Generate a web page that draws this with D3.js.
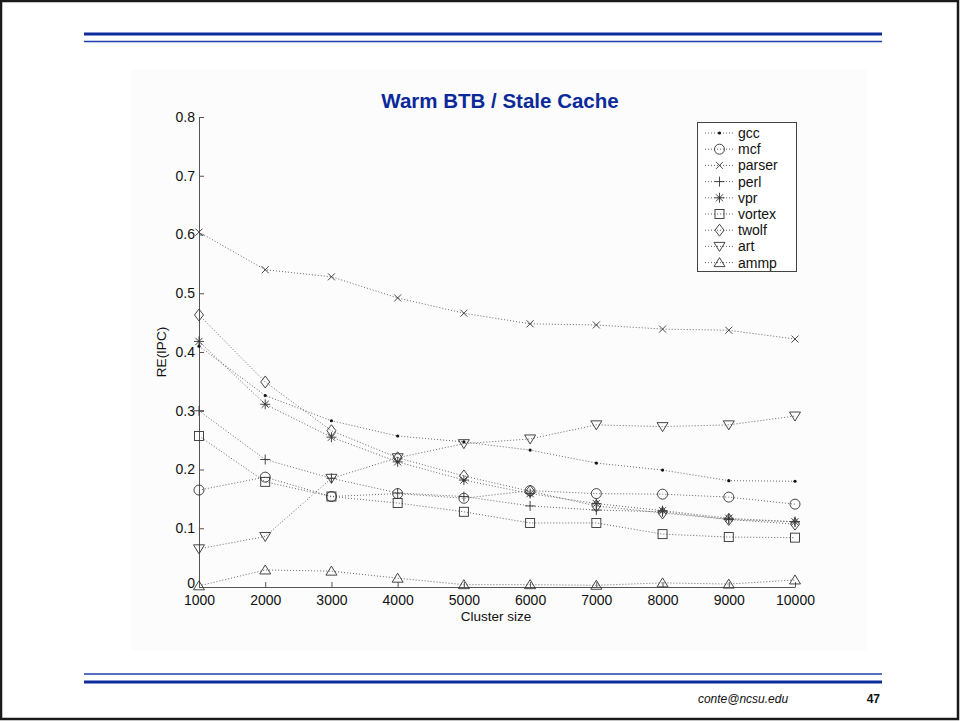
<!DOCTYPE html>
<html>
<head>
<meta charset="utf-8">
<script src="https://cdn.jsdelivr.net/npm/d3@7"></script>
<style>
  html, body { margin: 0; padding: 0; background: #fff; }
  svg { display: block; font-family: "Liberation Sans", Arial, sans-serif; }
</style>
</head>
<body>
<svg id="slide" width="960" height="721"></svg>
<script>
// Cluster sizes on the x axis
const clusterSizes = [1000, 2000, 3000, 4000, 5000, 6000, 7000, 8000, 9000, 10000];

// RE(IPC) per benchmark, one value per cluster size
const gcc    = [0.410, 0.326, 0.283, 0.257, 0.247, 0.233, 0.211, 0.199, 0.181, 0.180];
const mcf    = [0.165, 0.187, 0.154, 0.159, 0.151, 0.164, 0.159, 0.158, 0.153, 0.141];
const parser = [0.604, 0.540, 0.528, 0.492, 0.466, 0.448, 0.446, 0.439, 0.437, 0.422];
const perl   = [0.300, 0.217, 0.185, 0.160, 0.154, 0.138, 0.131, 0.128, 0.115, 0.111];
const vpr    = [0.418, 0.311, 0.255, 0.213, 0.182, 0.159, 0.142, 0.130, 0.117, 0.111];
const vortex = [0.257, 0.179, 0.154, 0.143, 0.128, 0.109, 0.109, 0.090, 0.085, 0.084];
const twolf  = [0.463, 0.349, 0.266, 0.220, 0.189, 0.163, 0.138, 0.126, 0.115, 0.107];
const art    = [0.065, 0.086, 0.185, 0.220, 0.244, 0.252, 0.276, 0.273, 0.276, 0.291];
const ammp   = [0.002, 0.029, 0.027, 0.015, 0.004, 0.004, 0.003, 0.007, 0.005, 0.012];

const seriesNames = ["gcc", "mcf", "parser", "perl", "vpr", "vortex", "twolf", "art", "ammp"];
const seriesValues = [gcc, mcf, parser, perl, vpr, vortex, twolf, art, ammp];
const seriesMarkers = ["dot", "circle", "x", "plus", "star", "square", "diamond", "down", "up"];

const xTicks = [1000, 2000, 3000, 4000, 5000, 6000, 7000, 8000, 9000, 10000];
const yTicks = [0, 0.1, 0.2, 0.3, 0.4, 0.5, 0.6, 0.7, 0.8];
const yTickLabels = ["0", "0.1", "0.2", "0.3", "0.4", "0.5", "0.6", "0.7", "0.8"];

const svg = d3.select("#slide");

// Slide frame
svg.append("rect").attr("x", 1).attr("y", 1).attr("width", 957).attr("height", 718)
  .attr("fill", "none").attr("stroke", "#1a1a1a").attr("stroke-width", 2.5);

// Header rules
const blue = "#0c2c9e";
svg.append("line").attr("x1", 84).attr("x2", 882).attr("y1", 34).attr("y2", 34)
  .attr("stroke", blue).attr("stroke-width", 3);
svg.append("line").attr("x1", 84).attr("x2", 882).attr("y1", 41.5).attr("y2", 41.5)
  .attr("stroke", "#1f3fae").attr("stroke-width", 1.6);
// Footer rules
svg.append("line").attr("x1", 84).attr("x2", 882).attr("y1", 674).attr("y2", 674)
  .attr("stroke", "#1f3fae").attr("stroke-width", 1.6);
svg.append("line").attr("x1", 84).attr("x2", 882).attr("y1", 682).attr("y2", 682)
  .attr("stroke", blue).attr("stroke-width", 3);

svg.append("text").attr("x", 743).attr("y", 703).attr("text-anchor", "middle")
  .attr("font-size", 12).attr("font-style", "italic").attr("fill", "#111")
  .text("conte@ncsu.edu");
svg.append("text").attr("x", 880).attr("y", 703).attr("text-anchor", "end")
  .attr("font-size", 12).attr("font-weight", "bold").attr("fill", "#111")
  .text("47");

// Figure background
svg.append("rect").attr("x", 131).attr("y", 70).attr("width", 736).attr("height", 580)
  .attr("fill", "#fcfcfc");

// Scales
const x = d3.scaleLinear().domain([1000, 10000]).range([199, 795]);
const y = d3.scaleLinear().domain([0, 0.8]).range([587, 117]);

const axisColor = "#555";
const tickFont = 14;

// Y axis (ticks point inward)
const yAxis = svg.append("g").attr("transform", `translate(${x(1000)},0)`)
  .call(d3.axisLeft(y).tickValues(yTicks).tickSizeInner(-5).tickSizeOuter(0).tickPadding(4)
    .tickFormat((d, i) => yTickLabels[i]));
yAxis.select(".domain").attr("stroke", axisColor);
yAxis.selectAll(".tick line").attr("stroke", axisColor);
yAxis.selectAll(".tick text").attr("font-size", tickFont).attr("fill", "#111")
  .attr("font-family", "Liberation Sans, Arial, sans-serif");
// lift the zero label so it sits clear of the first x label
yAxis.selectAll(".tick text").filter(d => d === 0).attr("dy", "0em");

// X axis (ticks point inward)
const xAxis = svg.append("g").attr("transform", `translate(0,${y(0)})`)
  .call(d3.axisBottom(x).tickValues(xTicks).tickSizeInner(-5).tickSizeOuter(0).tickPadding(8)
    .tickFormat(d3.format("d")));
xAxis.select(".domain").attr("stroke", axisColor);
xAxis.selectAll(".tick line").attr("stroke", axisColor);
xAxis.selectAll(".tick text").attr("font-size", tickFont).attr("fill", "#111")
  .attr("font-family", "Liberation Sans, Arial, sans-serif");

// Titles
svg.append("text").attr("x", 500).attr("y", 108).attr("text-anchor", "middle")
  .attr("font-size", 20.5).attr("font-weight", "bold").attr("fill", "#0b2a99")
  .text("Warm BTB / Stale Cache");
svg.append("text").attr("x", 496).attr("y", 621).attr("text-anchor", "middle")
  .attr("font-size", 13.5).attr("fill", "#111").text("Cluster size");
svg.append("text").attr("transform", "translate(166,352) rotate(-90)")
  .attr("text-anchor", "middle").attr("font-size", 13.5).attr("fill", "#111").text("RE(IPC)");

// Marker glyphs
const markerStroke = "#333";
function drawMarker(g, type, cx, cy) {
  const s = g.append("g").attr("transform", `translate(${cx},${cy})`)
    .attr("fill", "none").attr("stroke", markerStroke).attr("stroke-width", 0.9);
  switch (type) {
    case "dot":
      s.append("circle").attr("r", 1.6).attr("fill", "#111").attr("stroke", "none"); break;
    case "circle":
      s.append("circle").attr("r", 5); break;
    case "x":
      s.append("path").attr("d", "M-3.5,-3.5L3.5,3.5M-3.5,3.5L3.5,-3.5"); break;
    case "plus":
      s.append("path").attr("d", "M-5,0L5,0M0,-5L0,5"); break;
    case "star":
      s.append("path").attr("d", "M-5,0L5,0M0,-5L0,5M-3.6,-3.6L3.6,3.6M-3.6,3.6L3.6,-3.6"); break;
    case "square":
      s.append("rect").attr("x", -4.5).attr("y", -4.5).attr("width", 9).attr("height", 9); break;
    case "diamond":
      s.append("path").attr("d", "M0,-6L4.5,0L0,6L-4.5,0Z"); break;
    case "down":
      s.append("path").attr("d", "M-5.5,-4L5.5,-4L0,5Z"); break;
    case "up":
      s.append("path").attr("d", "M-5.5,4L5.5,4L0,-5Z"); break;
  }
}

// Series lines and markers
const line = d3.line().x((d, i) => x(clusterSizes[i])).y(d => y(d));
const plot = svg.append("g");
seriesValues.forEach((vals) => {
  plot.append("path").attr("d", line(vals)).attr("fill", "none")
    .attr("stroke", "#555").attr("stroke-width", 0.9).attr("stroke-dasharray", "1,2");
});
seriesValues.forEach((vals, k) => {
  vals.forEach((v, i) => drawMarker(plot, seriesMarkers[k], x(clusterSizes[i]), y(v)));
});

// Legend
const lg = svg.append("g");
lg.append("rect").attr("x", 697.5).attr("y", 122.5).attr("width", 99).attr("height", 149)
  .attr("fill", "#fff").attr("stroke", "#444").attr("stroke-width", 1);
seriesNames.forEach((name, k) => {
  const ly = 133 + k * 16.2;
  lg.append("line").attr("x1", 705).attr("x2", 734).attr("y1", ly).attr("y2", ly)
    .attr("stroke", "#555").attr("stroke-width", 0.9).attr("stroke-dasharray", "1,2");
  drawMarker(lg, seriesMarkers[k], 719.5, ly);
  lg.append("text").attr("x", 738).attr("y", ly + 5).attr("font-size", 14)
    .attr("fill", "#111").text(name);
});
</script>
</body>
</html>
